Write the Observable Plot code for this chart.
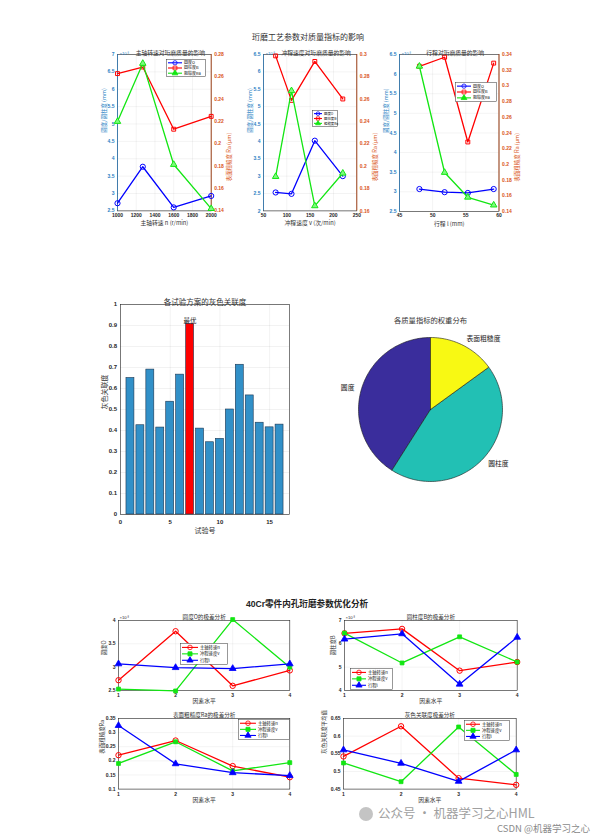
<!DOCTYPE html>
<html><head><meta charset="utf-8">
<script src="https://cdn.jsdelivr.net/npm/d3@7"></script>
<script src="https://cdn.jsdelivr.net/npm/@observablehq/plot@0.6"></script>
<style>
body{margin:0;background:#fff;}
#page{position:relative;width:611px;height:839px;overflow:hidden;background:#fff;}
</style></head><body><div id="page"></div>
<script>
// ---------------- data ----------------
const speedN = [1000, 1270, 1600, 2000];        // 主轴转速 n (r/min)
const strokeV = [76, 110, 160, 220];            // 冲程速度 v (次/min)
const lengthL = [48, 51.8, 55.3, 59.2];         // 行程 l (mm)
const levels = [1, 2, 3, 4];                    // 因素水平

const roundN = [2.72, 3.77, 2.60, 2.93];        // 圆度O (×10^-3 mm)
const cylN   = [6.45, 6.64, 4.85, 5.22];        // 圆柱度B (×10^-3 mm)
const raN    = [0.220, 0.272, 0.1815, 0.142];   // 粗糙度Ra (μm)
const roundV = [2.53, 2.49, 4.02, 3.00];
const cylV   = [6.46, 5.18, 6.30, 5.22];
const raV    = [0.1907, 0.2675, 0.1645, 0.1937];
const roundL = [3.07, 2.99, 2.97, 3.07];
const cylL   = [6.20, 6.43, 4.27, 6.28];
const raL    = [0.325, 0.1896, 0.158, 0.148];

const greyN = [0.5425, 0.628, 0.481, 0.462];
const greyV = [0.524, 0.471, 0.626, 0.4915];
const greyL = [0.561, 0.523, 0.472, 0.561];

const trials = [1,2,3,4,5,6,7,8,9,10,11,12,13,14,15,16];
const greyGrade = [0.65,0.425,0.69,0.414,0.537,0.666,0.908,0.409,0.344,0.36,0.50,0.713,0.567,0.437,0.415,0.428];
const bestTrial = 7;

const weightNames = ["圆度", "圆柱度", "表面粗糙度"];
const weights = [0.41, 0.44, 0.15];
const weightColors = ["#3a2d9c", "#22c0b4", "#f8f913"];

// tick labels
const ticksSpeed = [1000,1200,1400,1600,1800,2000];
const ticksStrokeV = [50,100,150,200,250];
const ticksLength = [45,50,55,60];
const ticksL1 = [2.5,3,3.5,4,4.5,5,5.5,6,6.5,7];
const ticksL2 = [2,2.5,3,3.5,4,4.5,5,5.5,6,6.5];
const ticksL3 = [2.5,3,3.5,4,4.5,5,5.5,6,6.5];
const ticksR1 = [0.14,0.16,0.18,0.2,0.22,0.24,0.26,0.28];
const ticksR2 = [0.16,0.18,0.2,0.22,0.24,0.26,0.28,0.3];
const ticksR3 = [0.14,0.16,0.18,0.2,0.22,0.24,0.26,0.28,0.3,0.32,0.34];
const ticksBarX = [0,5,10,15];
const ticksBarY = [0,0.1,0.2,0.3,0.4,0.5,0.6,0.7,0.8,0.9,1];
const ticksRoundO = [2.5,3,3.5,4];
const ticksCylB = [4,5,6,7];
const ticksRa = [0.1,0.15,0.2,0.25,0.3,0.35];
const ticksGrey = [0.45,0.5,0.55,0.6,0.65];

const topTitles = ["主轴转速对珩磨质量的影响", "冲程速度对珩磨质量的影响", "行程对珩磨质量的影响"];
const topXLabels = ["主轴转速 n (r/min)", "冲程速度 v (次/min)", "行程 l (mm)"];
const qualityNames = ["圆度O", "圆柱度B", "粗糙度Ra"];
const factorNames = ["主轴转速n", "冲程速度v", "行程l"];

// ---------------- helpers ----------------
const page = document.getElementById("page");
const FONT = '"Liberation Sans","Noto Sans CJK SC",sans-serif';
const CJK = '"Noto Sans CJK SC","Liberation Sans",sans-serif';
const fmt = d => String(+(+d).toFixed(4));
const BLUE = "#0000ff", RED = "#ff0000", GREEN = "#12e612";
const LBLUE = "#2a7fc4", ORANGE = "#D95319", AX = "#262626";
const GRID = {stroke: "#000", strokeOpacity: 0.1, strokeWidth: 0.5};

function mount(node, left, top) {
  node.style.position = "absolute";
  node.style.left = left + "px";
  node.style.top = top + "px";
  node.style.overflow = "visible";
  page.appendChild(node);
}
const symMap = {circle: d3.symbolCircle, square: d3.symbolSquare, triangle: d3.symbolTriangle};
function legend(x, y, w, h, entries, fs, lineLen) {
  const svg = d3.create("svg").attr("width", w).attr("height", h);
  svg.append("rect").attr("x", 0.3).attr("y", 0.3).attr("width", w - 0.6).attr("height", h - 0.6)
    .attr("fill", "white").attr("stroke", "#333").attr("stroke-width", 0.5);
  const pad = 1.2, rowH = (h - 2 * pad) / entries.length;
  entries.forEach((e, i) => {
    const cy = pad + (i + 0.5) * rowH;
    svg.append("line").attr("x1", 2).attr("x2", 2 + lineLen).attr("y1", cy).attr("y2", cy)
      .attr("stroke", e.color).attr("stroke-width", 1.1);
    svg.append("path").attr("d", d3.symbol(symMap[e.symbol], fs * fs * 0.9)())
      .attr("transform", `translate(${2 + lineLen / 2},${cy})`)
      .attr("fill", e.fill ? e.color : "none").attr("stroke", e.color).attr("stroke-width", 0.8);
    svg.append("text").attr("x", lineLen + 4).attr("y", cy).attr("dy", "0.35em")
      .attr("font-size", fs).attr("font-family", CJK).attr("fill", "#111").text(e.label);
  });
  mount(svg.node(), x, y);
}

// ---------------- top figure: dual-axis subplots ----------------
function dual(cfg) {
  const [x0, x1, y0, y1] = cfg.frame;
  const ml = 40, mr = 40, mt = 25, mb = 25;
  const toL = d3.scaleLinear().domain(cfg.rDomain).range(cfg.lDomain);
  const pts = ys => cfg.xs.map((x, i) => ({x, y: ys[i]}));
  const round = pts(cfg.round), cyl = pts(cfg.cyl);
  const ra = cfg.xs.map((x, i) => ({x, y: toL(cfg.ra[i])}));
  const svg = Plot.plot({
    width: x1 - x0 + ml + mr, height: y1 - y0 + mt + mb,
    marginLeft: ml, marginRight: mr, marginTop: mt, marginBottom: mb,
    style: {fontFamily: FONT, background: "transparent", overflow: "visible"},
    x: {domain: cfg.xDomain}, y: {domain: cfg.lDomain},
    marks: [
      Plot.gridX(cfg.xTicks, GRID),
      Plot.gridY(cfg.lTicks, GRID),
      Plot.frame({stroke: AX, strokeWidth: 0.6}),
      Plot.ruleX([cfg.xDomain[0]], {stroke: LBLUE, strokeWidth: 0.7}),
      Plot.ruleX([cfg.xDomain[1]], {stroke: ORANGE, strokeWidth: 0.7}),
      Plot.axisX(cfg.xTicks, {anchor: "bottom", tickSize: 0, tickPadding: 2.5, fontSize: 5, fontWeight: "bold", color: AX, label: null, tickFormat: fmt}),
      Plot.axisY(cfg.lTicks, {anchor: "left", tickSize: 0, tickPadding: 3, fontSize: 5, fontWeight: "bold", color: LBLUE, label: null, tickFormat: fmt}),
      Plot.axisY(cfg.rTicks.map(toL), {anchor: "right", tickSize: 0, tickPadding: 3, fontSize: 5, fontWeight: "bold", color: ORANGE, label: null, tickFormat: d => fmt(toL.invert(d))}),
      Plot.line(round, {x: "x", y: "y", stroke: BLUE, strokeWidth: 1.3}),
      Plot.dot(round, {x: "x", y: "y", symbol: "circle", r: 2.6, stroke: BLUE, fill: "none", strokeWidth: 1}),
      Plot.line(cyl, {x: "x", y: "y", stroke: RED, strokeWidth: 1.3}),
      Plot.dot(cyl, {x: "x", y: "y", symbol: "square", r: 2.2, stroke: RED, fill: "none", strokeWidth: 1}),
      Plot.line(ra, {x: "x", y: "y", stroke: GREEN, strokeWidth: 1.3}),
      Plot.dot(ra, {x: "x", y: "y", symbol: "triangle", r: 2.4, stroke: GREEN, fill: "#7dfa7d", strokeWidth: 1}),
      Plot.text([cfg.title], {text: d => d, frameAnchor: "top", dx: cfg.titleDx || 0, dy: -4, fontSize: 5.8, fill: "#333", fontFamily: CJK}),
      Plot.text(["×10⁻³"], {text: d => d, frameAnchor: "top-left", textAnchor: "start", dx: 2, dy: -2.5, fontSize: 4.2, fill: LBLUE}),
      Plot.text([cfg.xlabel], {text: d => d, frameAnchor: "bottom", dy: 14.5, fontSize: 5.8, fill: "#333", fontFamily: CJK}),
      Plot.text(["圆度/圆柱度 (mm)"], {text: d => d, frameAnchor: "left", rotate: -90, dx: -13, fontSize: 5.5, fill: LBLUE, fontFamily: CJK}),
      Plot.text(["表面粗糙度 Ra (μm)"], {text: d => d, frameAnchor: "right", rotate: -90, dx: 18, fontSize: 5.5, fill: ORANGE, fontFamily: CJK})
    ]
  });
  mount(svg, x0 - ml, y0 - mt);
  const [lx, ly, lw, lh, fs, ll] = cfg.legend;
  legend(lx, ly, lw, lh, [
    {label: qualityNames[0], color: BLUE, symbol: "circle", fill: false},
    {label: qualityNames[1], color: RED, symbol: "square", fill: false},
    {label: qualityNames[2], color: GREEN, symbol: "triangle", fill: true}
  ], fs, ll);
}

dual({frame: [117.3, 211, 54.3, 210.7], xs: speedN, xDomain: [1000, 2000], xTicks: ticksSpeed,
  lDomain: [2.5, 7], lTicks: ticksL1, rDomain: [0.14, 0.28], rTicks: ticksR1,
  round: roundN, cyl: cylN, ra: raN, title: topTitles[0], xlabel: topXLabels[0], titleDx: 6,
  legend: [166, 58.5, 40, 18, 4, 14]});
dual({frame: [262.7, 356, 54.3, 210.7], xs: strokeV, xDomain: [50, 250], xTicks: ticksStrokeV,
  lDomain: [2, 6.5], lTicks: ticksL2, rDomain: [0.16, 0.30], rTicks: ticksR2,
  round: roundV, cyl: cylV, ra: raV, title: topTitles[1], xlabel: topXLabels[1], titleDx: 6,
  legend: [312, 110, 26, 17, 3.4, 8]});
dual({frame: [399.3, 498.8, 54.3, 211.2], xs: lengthL, xDomain: [45, 60], xTicks: ticksLength,
  lDomain: [2.5, 6.5], lTicks: ticksL3, rDomain: [0.14, 0.34], rTicks: ticksR3,
  round: roundL, cyl: cylL, ra: raL, title: topTitles[2], xlabel: topXLabels[2], titleDx: 6,
  legend: [455, 82, 42, 20, 4, 14]});

// ---------------- middle: bar chart ----------------
{
  const [x0, x1, y0, y1] = [120, 289, 304, 514];
  const ml = 40, mr = 20, mt = 25, mb = 30;
  const bars = trials.map((t, i) => ({t, g: greyGrade[i]}));
  const svg = Plot.plot({
    width: x1 - x0 + ml + mr, height: y1 - y0 + mt + mb,
    marginLeft: ml, marginRight: mr, marginTop: mt, marginBottom: mb,
    style: {fontFamily: FONT, background: "transparent", overflow: "visible"},
    x: {domain: [0, 17]}, y: {domain: [0, 1]},
    marks: [
      Plot.gridX(ticksBarX, GRID),
      Plot.gridY(ticksBarY, GRID),
      Plot.rectY(bars.filter(d => d.t !== bestTrial), {x1: d => d.t - 0.4, x2: d => d.t + 0.4, y: "g", fill: "#3190c8", stroke: "#1b3550", strokeWidth: 0.6}),
      Plot.rectY(bars.filter(d => d.t === bestTrial), {x1: d => d.t - 0.4, x2: d => d.t + 0.4, y: "g", fill: "#ff0000", stroke: "#1b3550", strokeWidth: 0.6}),
      Plot.frame({stroke: AX, strokeWidth: 0.6}),
      Plot.axisX(ticksBarX, {anchor: "bottom", tickSize: 0, tickPadding: 5, fontSize: 6, fontWeight: "bold", color: AX, label: null}),
      Plot.axisY(ticksBarY, {anchor: "left", tickSize: 0, tickPadding: 3.5, fontSize: 6, fontWeight: "bold", color: AX, label: null, tickFormat: fmt}),
      Plot.text(bars.filter(d => d.t === bestTrial), {x: "t", y: "g", text: () => "最优", dy: -3, fontSize: 6.5, fill: "#222", fontFamily: CJK}),
      Plot.text(["各试验方案的灰色关联度"], {text: d => d, frameAnchor: "top", dy: -5, fontSize: 7.5, fill: "#333", fontFamily: CJK}),
      Plot.text(["试验号"], {text: d => d, frameAnchor: "bottom", dy: 18, fontSize: 7, fill: "#333", fontFamily: CJK}),
      Plot.text(["灰色关联度"], {text: d => d, frameAnchor: "left", rotate: -90, dx: -16, fontSize: 7, fill: "#333", fontFamily: CJK})
    ]
  });
  mount(svg, x0 - ml, y0 - mt);
}

// ---------------- middle: pie ----------------
{
  const cx = 430, cy = 409, R = 72, m = 30;
  const arcs = d3.pie().sort(null)(weights); // clockwise angles, mirrored to MATLAB's counter-clockwise layout
  const slices = arcs.map((a, i) => {
    const n = Math.max(8, Math.round((a.endAngle - a.startAngle) * 40));
    const pts = [{x: 0, y: 0}];
    for (let k = 0; k <= n; k++) {
      const t = a.startAngle + (a.endAngle - a.startAngle) * k / n;
      pts.push({x: -Math.sin(t), y: Math.cos(t)});
    }
    pts.push({x: 0, y: 0});
    return {pts, color: weightColors[i]};
  });
  const labels = arcs.map((a, i) => {
    const t = (a.startAngle + a.endAngle) / 2;
    return {x: -1.1 * Math.sin(t), y: 1.1 * Math.cos(t), name: weightNames[i]};
  });
  const svg = Plot.plot({
    width: 2 * R + 2 * m, height: 2 * R + 2 * m,
    marginLeft: m, marginRight: m, marginTop: m, marginBottom: m,
    style: {fontFamily: CJK, background: "transparent", overflow: "visible"},
    x: {domain: [-1, 1], axis: null}, y: {domain: [-1, 1], axis: null},
    marks: [
      ...slices.map(s => Plot.line(s.pts, {x: "x", y: "y", fill: s.color, stroke: "#1a1a1a", strokeWidth: 0.6, curve: "linear-closed"})),
      Plot.text(labels.filter(d => d.x >= 0), {x: "x", y: "y", text: "name", textAnchor: "start", fontSize: 6.8, fill: "#222"}),
      Plot.text(labels.filter(d => d.x < 0), {x: "x", y: "y", text: "name", textAnchor: "end", fontSize: 6.8, fill: "#222"}),
      Plot.text(["各质量指标的权重分布"], {text: d => d, frameAnchor: "top", dy: -20, fontSize: 7.3, fill: "#333"})
    ]
  });
  mount(svg, cx - R - m, cy - R - m);
}

// ---------------- bottom figure: range analysis ----------------
function rangePlot(cfg) {
  const [x0, x1, y0, y1] = cfg.frame;
  const ml = 40, mr = 20, mt = 20, mb = 20;
  const pts = ys => levels.map((x, i) => ({x, y: ys[i]}));
  const [sn, sv, sl] = cfg.series.map(pts);
  const svg = Plot.plot({
    width: x1 - x0 + ml + mr, height: y1 - y0 + mt + mb,
    marginLeft: ml, marginRight: mr, marginTop: mt, marginBottom: mb,
    style: {fontFamily: FONT, background: "transparent", overflow: "visible"},
    x: {domain: [1, 4]}, y: {domain: cfg.yDomain},
    marks: [
      Plot.gridX(levels, GRID),
      Plot.gridY(cfg.yTicks, GRID),
      Plot.frame({stroke: AX, strokeWidth: 0.6}),
      Plot.axisX(levels, {anchor: "bottom", tickSize: 0, tickPadding: 3, fontSize: 5, fontWeight: "bold", color: AX, label: null}),
      Plot.axisY(cfg.yTicks, {anchor: "left", tickSize: 0, tickPadding: 3, fontSize: 5, fontWeight: "bold", color: AX, label: null, tickFormat: fmt}),
      Plot.line(sn, {x: "x", y: "y", stroke: RED, strokeWidth: 1.3}),
      Plot.dot(sn, {x: "x", y: "y", symbol: "circle", r: 2.7, stroke: RED, fill: "none", strokeWidth: 1}),
      Plot.line(sv, {x: "x", y: "y", stroke: GREEN, strokeWidth: 1.3}),
      Plot.dot(sv, {x: "x", y: "y", symbol: "square", r: 2.2, stroke: GREEN, fill: GREEN, strokeWidth: 0.8}),
      Plot.line(sl, {x: "x", y: "y", stroke: BLUE, strokeWidth: 1.3}),
      Plot.dot(sl, {x: "x", y: "y", symbol: "triangle", r: 2.5, stroke: BLUE, fill: BLUE, strokeWidth: 0.8}),
      Plot.text([cfg.title], {text: d => d, frameAnchor: "top", dy: -5, fontSize: 5.6, fill: "#333", fontFamily: CJK}),
      Plot.text(["因素水平"], {text: d => d, frameAnchor: "bottom", dy: 12.5, fontSize: 5.8, fill: "#333", fontFamily: CJK}),
      Plot.text([cfg.ylabel], {text: d => d, frameAnchor: "left", rotate: -90, dx: cfg.ylabelDx, fontSize: 5.5, fill: "#333", fontFamily: CJK}),
      ...(cfg.exp ? [Plot.text(["×10⁻³"], {text: d => d, frameAnchor: "top-left", textAnchor: "start", dx: 1, dy: -4, fontSize: 4.2, fill: AX})] : [])
    ]
  });
  mount(svg, x0 - ml, y0 - mt);
  const [lx, ly, lw, lh, fs, ll] = cfg.legend;
  legend(lx, ly, lw, lh, [
    {label: factorNames[0], color: RED, symbol: "circle", fill: false},
    {label: factorNames[1], color: GREEN, symbol: "square", fill: true},
    {label: factorNames[2], color: BLUE, symbol: "triangle", fill: true}
  ], fs, ll);
}

rangePlot({frame: [117.7, 289, 620, 690], yDomain: [2.5, 4], yTicks: ticksRoundO,
  series: [roundN, roundV, roundL], title: "圆度O的极差分析", ylabel: "圆度O", ylabelDx: -14, exp: true,
  legend: [180, 643.3, 48, 21.7, 4.3, 16]});
rangePlot({frame: [344, 516.7, 620, 690], yDomain: [4, 7], yTicks: ticksCylB,
  series: [cylN, cylV, cylL], title: "圆柱度B的极差分析", ylabel: "圆柱度B", ylabelDx: -11, exp: true,
  legend: [350, 668.3, 43, 21.7, 4.3, 14]});
rangePlot({frame: [117.7, 289, 717.7, 788.3], yDomain: [0.1, 0.35], yTicks: ticksRa,
  series: [raN, raV, raL], title: "表面粗糙度Ra的极差分析", ylabel: "表面粗糙度Ra", ylabelDx: -16, exp: false,
  legend: [238.3, 719.3, 51.7, 20.7, 4.3, 16]});
rangePlot({frame: [343.3, 516, 717.7, 788.3], yDomain: [0.45, 0.65], yTicks: ticksGrey,
  series: [greyN, greyV, greyL], title: "灰色关联度极差分析", ylabel: "灰色关联度平均值", ylabelDx: -19, exp: false,
  legend: [464, 720, 46, 20.7, 4.3, 14]});

// ---------------- figure-level texts ----------------
{
  const svg = d3.create("svg").attr("width", 611).attr("height", 839).style("pointer-events", "none");
  svg.append("text").attr("x", 308).attr("y", 37).attr("dy", "0.35em").attr("text-anchor", "middle")
    .attr("font-size", 8).attr("font-family", CJK).attr("fill", "#333").text("珩磨工艺参数对质量指标的影响");
  svg.append("text").attr("x", 307).attr("y", 604).attr("dy", "0.35em").attr("text-anchor", "middle")
    .attr("font-size", 8.6).attr("font-weight", "bold").attr("font-family", FONT).attr("fill", "#222").text("40Cr零件内孔珩磨参数优化分析");
  svg.append("circle").attr("cx", 366).attr("cy", 814).attr("r", 7).attr("fill", "#c4c4c4");
  svg.append("text").attr("x", 378).attr("y", 814).attr("dy", "0.35em")
    .attr("font-size", 12.5).attr("font-family", CJK).attr("fill", "#a0a0a0").text("公众号 · 机器学习之心HML");
  svg.append("text").attr("x", 497).attr("y", 829).attr("dy", "0.35em")
    .attr("font-size", 9.5).attr("font-family", CJK).attr("fill", "#8a8a8a").text("CSDN @机器学习之心");
  mount(svg.node(), 0, 0);
}
</script></body></html>
